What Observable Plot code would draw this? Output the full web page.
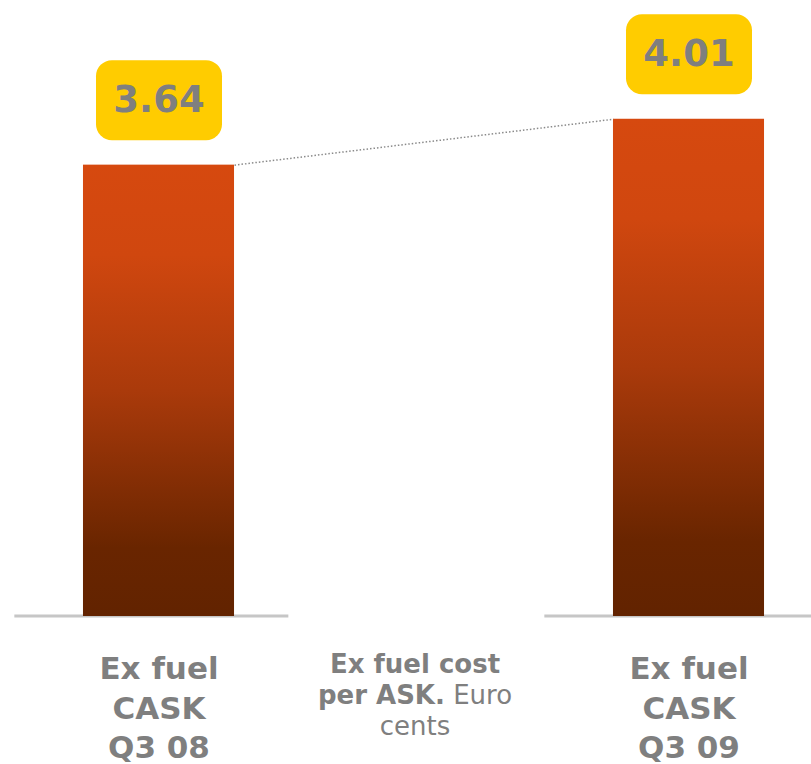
<!DOCTYPE html>
<html><head><meta charset="utf-8">
<script src="https://cdn.jsdelivr.net/npm/d3@7"></script>
<script src="https://cdn.jsdelivr.net/npm/@observablehq/plot@0.6"></script>
<style>body{margin:0;background:#fff}</style>
</head><body><div id="chart"></div>
<script>
// ---- data ----
const categories = ["Ex fuel\nCASK\nQ3 08", "Ex fuel\nCASK\nQ3 09"];
const values = [3.64, 4.01];
const valueLabels = ["3.64", "4.01"];
const captionBold1 = "Ex fuel cost";
const captionBold2 = "per ASK.";
const captionRegular2 = "Euro";
const captionRegular3 = "cents";

const data = categories.map((c, i) => ({i, category: c, value: values[i], label: valueLabels[i]}));
const pair = [{a: data[0], b: data[1]}];
const caption = [`${captionBold1}\n${captionBold2} ${captionRegular2}\n${captionRegular3}`];

const HW = 0.1425; // half bar width in category-step units
const GRAY = "#7f7f7f";
const FONT = "DejaVu Sans, Verdana, sans-serif";

const roundBox = {
  draw(ctx) {
    const w = 126, h = 80, r = 16, x0 = -w / 2, y0 = -h / 2, x1 = w / 2, y1 = h / 2;
    ctx.moveTo(x0 + r, y0);
    ctx.lineTo(x1 - r, y0);
    ctx.arcTo(x1, y0, x1, y0 + r, r);
    ctx.lineTo(x1, y1 - r);
    ctx.arcTo(x1, y1, x1 - r, y1, r);
    ctx.lineTo(x0 + r, y1);
    ctx.arcTo(x0, y1, x0, y1 - r, r);
    ctx.lineTo(x0, y0 + r);
    ctx.arcTo(x0, y0, x0 + r, y0, r);
    ctx.closePath();
  }
};

const chart = Plot.plot({
  width: 811,
  height: 764,
  margin: 0,
  style: {fontFamily: FONT, background: "#fff"},
  x: {type: "linear", domain: [0, 1], range: [158.5, 688.5], axis: null},
  y: {type: "linear", domain: [0, 4], range: [616, 120], axis: null},
  marks: [
    Plot.ruleY(data, {y: () => 0, x1: d => d.i - 0.272, x2: d => d.i + 0.245, dy: d => 0, stroke: "#c6c6c6", strokeWidth: 3}),
    Plot.rect(data, {x1: d => d.i - HW, x2: d => d.i + HW, y1: () => 0, y2: "value", fill: "url(#barGrad)"}),
    Plot.link(pair, {
      x1: d => d.a.i + HW, y1: d => d.a.value,
      x2: d => d.b.i - HW, y2: d => d.b.value,
      stroke: "#8a8a8a", strokeWidth: 1.5, strokeDasharray: "1.5 2"
    }),
    Plot.dot(data, {x: "i", y: "value", dy: -65, r: 10, symbol: roundBox, fill: "#ffcc00", stroke: "none"}),
    Plot.text(data, {x: "i", y: "value", dy: -65, text: "label", fontSize: 37, fontWeight: "bold", fill: GRAY}),
    Plot.text(data, {x: "i", y: () => 0, text: "category", lineAnchor: "top", dy: 35, lineHeight: 1.27, fontSize: 31, fontWeight: "bold", fill: GRAY}),
    Plot.text(caption, {x: () => 0.5, y: () => 0, dx: -9, text: d => d, lineAnchor: "top", dy: 34, lineHeight: 1.2, fontSize: 26, fill: GRAY})
  ]
});

// gradient for bars
const defs = d3.select(chart).insert("defs", ":first-child");
const grad = defs.append("linearGradient").attr("id", "barGrad")
  .attr("x1", 0).attr("y1", 0).attr("x2", 0).attr("y2", 1);
[[0, "#d6490f"], [0.2, "#d0470f"], [0.5, "#aa3a0b"], [0.85, "#692500"], [1, "#622300"]]
  .forEach(([o, c]) => grad.append("stop").attr("offset", o).attr("stop-color", c));

// mixed weights in the caption
d3.select(chart).selectAll("text").each(function() {
  if (!this.textContent.includes(captionRegular2)) return;
  const tspans = this.querySelectorAll("tspan");
  if (tspans.length < 3) return;
  tspans[0].setAttribute("font-weight", "bold");
  const t2 = tspans[1];
  t2.textContent = "";
  d3.select(t2).append("tspan").attr("font-weight", "bold").text(captionBold2);
  d3.select(t2).append("tspan").text(" " + captionRegular2);
});

document.getElementById("chart").appendChild(chart);
</script>
</body></html>
